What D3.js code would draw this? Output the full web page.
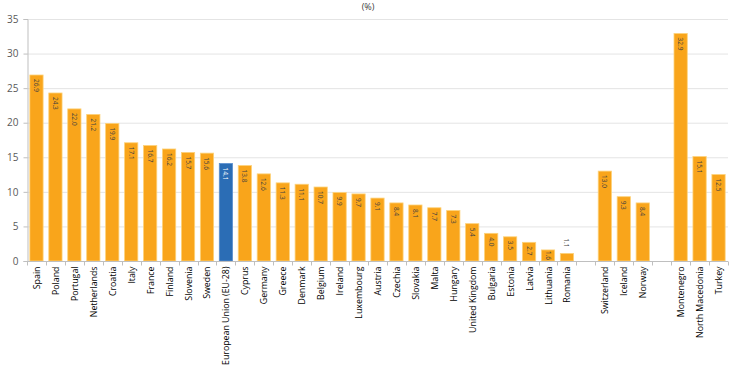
<!DOCTYPE html>
<html>
<head>
<meta charset="utf-8">
<script src="https://cdn.jsdelivr.net/npm/d3@7"></script>
<style>
  body { margin: 0; background: #fff; }
  svg { font-family: "Open Sans", "Liberation Sans", sans-serif; }
</style>
</head>
<body>
<div id="chart"></div>
<script>
// categories in display order, "gap" marks an empty slot
var countries = [
  "Spain", "Poland", "Portugal", "Netherlands", "Croatia", "Italy", "France", "Finland",
  "Slovenia", "Sweden", "European Union (EU-28)", "Cyprus", "Germany", "Greece", "Denmark",
  "Belgium", "Ireland", "Luxembourg", "Austria", "Czechia", "Slovakia", "Malta", "Hungary",
  "United Kingdom", "Bulgaria", "Estonia", "Latvia", "Lithuania", "Romania", "gap1",
  "Switzerland", "Iceland", "Norway", "gap2", "Montenegro", "North Macedonia", "Turkey"
];
var values = [
  26.9, 24.3, 22.0, 21.2, 19.9, 17.1, 16.7, 16.2,
  15.7, 15.6, 14.1, 13.8, 12.6, 11.3, 11.1,
  10.7, 9.9, 9.7, 9.1, 8.4, 8.1, 7.7, 7.3,
  5.4, 4.0, 3.5, 2.7, 1.6, 1.1, null,
  13.0, 9.3, 8.4, null, 32.9, 15.1, 12.5
];
var yTicks = [0, 5, 10, 15, 20, 25, 30, 35];
var highlight = "European Union (EU-28)";

var width = 740, height = 389;
var margin = {top: 19, right: 12, bottom: 128, left: 27};

var svg = d3.select("#chart").append("svg")
  .attr("width", width)
  .attr("height", height);

// title (only the unit is visible at the top in the original)
svg.append("text")
  .attr("x", 368)
  .attr("y", 10)
  .attr("text-anchor", "middle")
  .attr("font-size", 9)
  .attr("fill", "#404040")
  .text("(%)");

var x = d3.scaleBand()
  .domain(countries)
  .range([margin.left, width - margin.right])
  .paddingInner(0.3)
  .paddingOuter(0.15);

var y = d3.scaleLinear()
  .domain([0, 35])
  .range([height - margin.bottom, margin.top]);

// gridlines
svg.append("g")
  .selectAll("line")
  .data(yTicks.slice(1))
  .enter().append("line")
  .attr("x1", margin.left)
  .attr("x2", width - margin.right)
  .attr("y1", function(d) { return y(d) + 0.5; })
  .attr("y2", function(d) { return y(d) + 0.5; })
  .attr("stroke", "#e4e4e4")
  .attr("stroke-width", 1);

// y axis
var yAxis = svg.append("g")
  .attr("transform", "translate(" + (margin.left + 0.5) + ",0)")
  .call(d3.axisLeft(y).tickValues(yTicks).tickSize(4).tickPadding(5));
yAxis.select(".domain").attr("stroke", "#bfbfbf");
yAxis.selectAll(".tick line").attr("stroke", "#bfbfbf");
yAxis.selectAll("text").attr("font-size", 10).attr("fill", "#595959")
  .attr("font-family", "Open Sans, Liberation Sans, sans-serif");

// bars
var data = countries.map(function(c, i) { return {name: c, value: values[i]}; })
  .filter(function(d) { return d.value !== null; });

svg.append("g")
  .selectAll("rect")
  .data(data)
  .enter().append("rect")
  .attr("x", function(d) { return x(d.name); })
  .attr("y", function(d) { return y(d.value); })
  .attr("width", x.bandwidth())
  .attr("height", function(d) { return y(0) - y(d.value); })
  .attr("fill", function(d) { return d.name === highlight ? "#2b6db5" : "#f9a51b"; })
  .attr("stroke", function(d) { return d.name === highlight ? "#5b8fd0" : "#fdd27a"; })
  .attr("stroke-width", 0.8);

// value labels, rotated, inside top of bar (outside when the bar is too short)
svg.append("g")
  .selectAll("text")
  .data(data)
  .enter().append("text")
  .attr("transform", function(d) {
    var cx = x(d.name) + x.bandwidth() / 2;
    var ty = d.value < 1.5 ? y(d.value) - 15 : y(d.value) + (d.value < 2 ? 1 : 4);
    return "translate(" + (cx - 2.5) + "," + ty + ") rotate(90)";
  })
  .attr("text-anchor", "start")
  .attr("font-size", 6.5)
  .attr("fill", function(d) { return d.name === highlight ? "#ffffff" : "#404040"; })
  .text(function(d) { return d.value.toFixed(1); });

// x axis
var xAxisY = y(0) + 0.5;
svg.append("line")
  .attr("x1", margin.left)
  .attr("x2", width - margin.right)
  .attr("y1", xAxisY)
  .attr("y2", xAxisY)
  .attr("stroke", "#bfbfbf");

// tick marks between categories
var bounds = d3.range(countries.length + 1).map(function(i) {
  return margin.left + i * (width - margin.right - margin.left) / countries.length;
});
svg.append("g")
  .selectAll("line")
  .data(bounds)
  .enter().append("line")
  .attr("x1", function(d) { return Math.round(d) + 0.5; })
  .attr("x2", function(d) { return Math.round(d) + 0.5; })
  .attr("y1", xAxisY)
  .attr("y2", xAxisY + 4)
  .attr("stroke", "#bfbfbf");

svg.append("g")
  .selectAll("text")
  .data(countries.filter(function(c) { return c.indexOf("gap") !== 0; }))
  .enter().append("text")
  .attr("transform", function(d) {
    return "translate(" + (x(d) + x.bandwidth() / 2 + 3.5) + "," + (xAxisY + 5) + ") rotate(-90)";
  })
  .attr("text-anchor", "end")
  .attr("font-size", 8.8)
  .attr("fill", "#000")
  .text(function(d) { return d; });
</script>
</body>
</html>
